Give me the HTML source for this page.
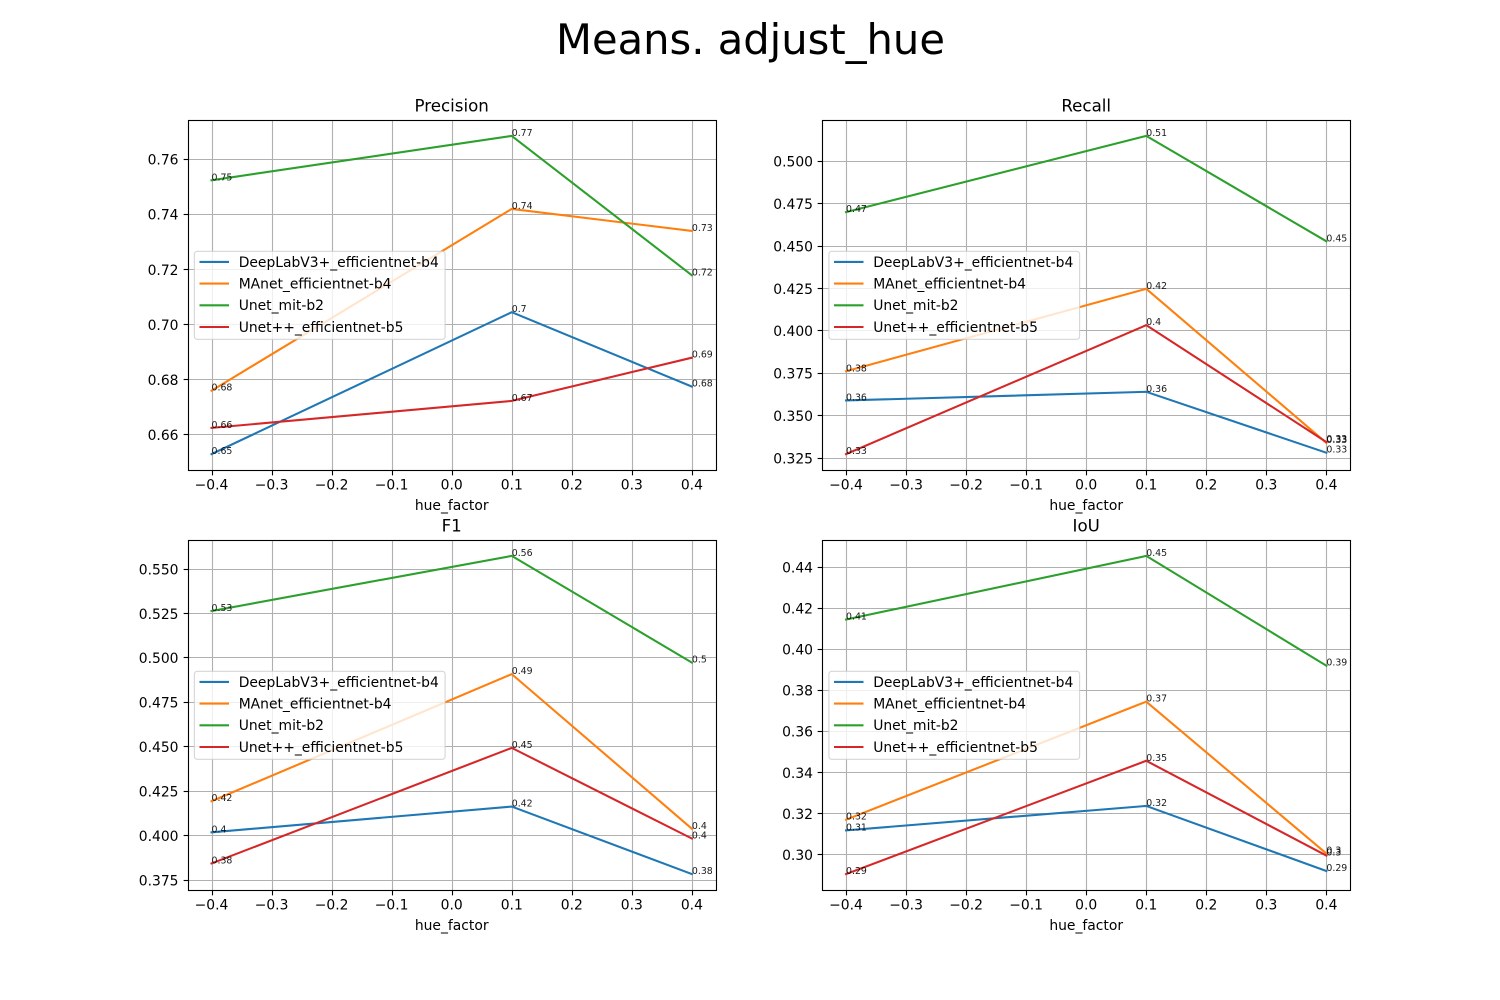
<!DOCTYPE html>
<html lang="en">
<head>
<meta charset="utf-8">
<title>Means. adjust_hue</title>
<style>
html,body{margin:0;padding:0;background:#fff;}
svg{display:block;}
text{font-family:"DejaVu Sans","Liberation Sans",sans-serif;fill:#000;}
</style>
</head>
<body>
<svg id="figure" xmlns="http://www.w3.org/2000/svg" width="1500" height="1000" viewBox="0 0 1500 1000">
<rect x="0" y="0" width="1500" height="1000" fill="#fff"/>
<text x="750.5" y="54" font-size="41.67" text-anchor="middle">Means. adjust_hue</text>
</svg>
<script>
const hueFactors = [-0.4, 0.1, 0.4];
const modelNames = ["DeepLabV3+_efficientnet-b4", "MAnet_efficientnet-b4", "Unet_mit-b2", "Unet++_efficientnet-b5"];
const modelColors = ["#1f77b4", "#ff7f0e", "#2ca02c", "#d62728"];
const xTicks = [-0.4, -0.3, -0.2, -0.1, 0.0, 0.1, 0.2, 0.3, 0.4];

const precisionDeepLab = [0.653, 0.7045, 0.6775];
const precisionMAnet = [0.676, 0.742, 0.734];
const precisionUnetMit = [0.7524, 0.7685, 0.7179];
const precisionUnetPP = [0.6625, 0.6723, 0.688];
const precisionTicks = ["0.66", "0.68", "0.70", "0.72", "0.74", "0.76"];

const recallDeepLab = [0.359, 0.3641, 0.3282];
const recallMAnet = [0.3762, 0.4248, 0.334];
const recallUnetMit = [0.470, 0.5149, 0.4528];
const recallUnetPP = [0.3274, 0.4034, 0.3345];
const recallTicks = ["0.325", "0.350", "0.375", "0.400", "0.425", "0.450", "0.475", "0.500"];

const f1DeepLab = [0.4019, 0.4164, 0.3784];
const f1MAnet = [0.4194, 0.4909, 0.4039];
const f1UnetMit = [0.5264, 0.5574, 0.4974];
const f1UnetPP = [0.3844, 0.4494, 0.3984];
const f1Ticks = ["0.375", "0.400", "0.425", "0.450", "0.475", "0.500", "0.525", "0.550"];

const iouDeepLab = [0.3118, 0.3237, 0.292];
const iouMAnet = [0.317, 0.3745, 0.3005];
const iouUnetMit = [0.4145, 0.4455, 0.392];
const iouUnetPP = [0.2905, 0.3457, 0.2995];
const iouTicks = ["0.30", "0.32", "0.34", "0.36", "0.38", "0.40", "0.42", "0.44"];

const NS = "http://www.w3.org/2000/svg";
const figure = document.getElementById("figure");

function svgEl(tag, parent, props) {
  const el = document.createElementNS(NS, tag);
  for (const k in props) el.setAttribute(k, props[k]);
  parent.appendChild(el);
  return el;
}
function slug(s) {
  return s.toLowerCase().replace(/\+/g, "-plus").replace(/[^a-z0-9]+/g, "-");
}
function snap(v) {
  return Math.floor(v + 0.5) + 0.5;
}
function snapDown(v) {
  return Math.floor(v) + 0.5;
}

function drawPanel(title, key, left, top, series, yTicks) {
  const width = 528.4, height = 350;
  const group = svgEl("g", figure, {});
  
  

  const all = [].concat.apply([], series);
  const lo = Math.min.apply(null, all), hi = Math.max.apply(null, all);
  const pad = (hi - lo) * 0.05;
  const x0 = Math.min.apply(null, hueFactors), x1 = Math.max.apply(null, hueFactors);
  const xPad = (x1 - x0) * 0.05;
  const xScale = function (v) { return left + (v - (x0 - xPad)) / ((x1 - x0) + 2 * xPad) * width; };
  const yScale = function (v) { return top + height - (v - (lo - pad)) / ((hi - lo) + 2 * pad) * height; };
  const bottomPx = snap(top + height), leftPx = snap(left), rightPx = snap(left + width), topPx = snap(top);

  // grid and ticks
  xTicks.forEach(function (t) {
    const px = xScale(t);
    const sx = snap(px);
    const grid = svgEl("line", group, {x1: sx, x2: sx, y1: topPx, y2: bottomPx, stroke: "#b0b0b0", "stroke-width": 1.11});
    
    
    const tick = svgEl("line", group, {x1: sx, x2: sx, y1: bottomPx, y2: bottomPx + 4.86, stroke: "#000", "stroke-width": 1.11});
    
    
    const label = svgEl("text", group, {x: px, y: top + height + 19.5, "font-size": 13.89, "text-anchor": "middle"});
    
    
    label.textContent = t.toFixed(1).replace("-", "\u2212");
  });
  yTicks.forEach(function (t) {
    const py = yScale(parseFloat(t));
    const sy = snapDown(py);
    const grid = svgEl("line", group, {x1: leftPx, x2: rightPx, y1: sy, y2: sy, stroke: "#b0b0b0", "stroke-width": 1.11});
    
    
    const tick = svgEl("line", group, {x1: leftPx - 4.86, x2: leftPx, y1: sy, y2: sy, stroke: "#000", "stroke-width": 1.11});
    
    
    const label = svgEl("text", group, {x: left - 9, y: py + 5.3, "font-size": 13.89, "text-anchor": "end"});
    
    
    label.textContent = t;
  });

  // series lines
  series.forEach(function (vals, i) {
    const pts = vals.map(function (v, j) { return xScale(hueFactors[j]).toFixed(2) + "," + yScale(v).toFixed(2); }).join(" ");
    const line = svgEl("polyline", group, {points: pts, fill: "none", stroke: modelColors[i], "stroke-width": 2.08, "stroke-linejoin": "round", "stroke-linecap": "square"});
    
    
  });

  // value annotations
  series.forEach(function (vals, i) {
    vals.forEach(function (v, j) {
      const note = svgEl("text", group, {x: xScale(hueFactors[j]), y: yScale(v), "font-size": 9.4, "fill-opacity": 0.9});
      
      
      note.textContent = String(+v.toFixed(2));
    });
  });

  // spines
  const frame = svgEl("rect", group, {x: leftPx, y: topPx, width: rightPx - leftPx, height: bottomPx - topPx, fill: "none", stroke: "#000", "stroke-width": 1.11});
  
  

  // titles
  const axTitle = svgEl("text", group, {x: left + width / 2, y: top - 8.3, "font-size": 16.67, "text-anchor": "middle"});
  
  
  axTitle.textContent = title;
  const xTitle = svgEl("text", group, {x: left + width / 2, y: top + height + 40, "font-size": 13.89, "text-anchor": "middle"});
  
  
  xTitle.textContent = "hue_factor";

  // legend
  const legend = svgEl("g", group, {});
  
  
  const legendTop = top + 131.3;
  const box = svgEl("rect", legend, {x: left + 6.9, y: legendTop, width: 250.7, height: 88, rx: 2.8, ry: 2.8, fill: "#fff", "fill-opacity": 0.8, stroke: "#ccc", "stroke-opacity": 0.8, "stroke-width": 1.11});
  
  
  modelNames.forEach(function (name, i) {
    const rowY = legendTop + 10.6 + i * 21.7;
    const swatch = svgEl("line", legend, {x1: left + 12, x2: left + 41.5, y1: rowY, y2: rowY, stroke: modelColors[i], "stroke-width": 2.08});
    
    
    const text = svgEl("text", legend, {x: left + 51.2, y: rowY + 4.9, "font-size": 13.89});
    
    
    text.textContent = name;
  });
}

drawPanel("Precision", "precision", 187.5, 120, [precisionDeepLab, precisionMAnet, precisionUnetMit, precisionUnetPP], precisionTicks);
drawPanel("Recall", "recall", 822, 120, [recallDeepLab, recallMAnet, recallUnetMit, recallUnetPP], recallTicks);
drawPanel("F1", "f1", 187.5, 540, [f1DeepLab, f1MAnet, f1UnetMit, f1UnetPP], f1Ticks);
drawPanel("IoU", "iou", 822, 540, [iouDeepLab, iouMAnet, iouUnetMit, iouUnetPP], iouTicks);
</script>
</body>
</html>
